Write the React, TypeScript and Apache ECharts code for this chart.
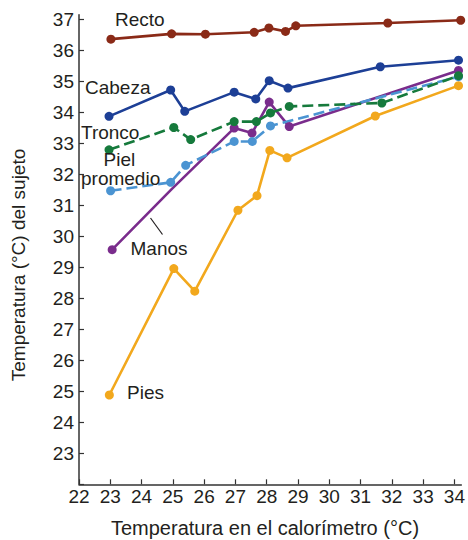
import React, { useEffect, useRef } from "react";
import * as echarts from "echarts";

type Pt = [number, number];

const xTicks = [22, 23, 24, 25, 26, 27, 28, 29, 30, 31, 32, 33, 34];
const yTicks = [22, 23, 24, 25, 26, 27, 28, 29, 30, 31, 32, 33, 34, 35, 36, 37];
const yLabels = [23, 24, 25, 26, 27, 28, 29, 30, 31, 32, 33, 34, 35, 36, 37];

const recto: Pt[] = [[23.02, 36.36], [24.96, 36.53], [26.04, 36.52], [27.6, 36.58], [28.07, 36.72], [28.6, 36.61], [28.93, 36.79], [31.87, 36.88], [34.2, 36.97]];
const cabeza: Pt[] = [[22.96, 33.87], [24.93, 34.72], [25.38, 34.03], [26.96, 34.65], [27.65, 34.43], [28.08, 35.02], [28.68, 34.78], [31.63, 35.47], [34.13, 35.68]];
const tronco: Pt[] = [[22.96, 32.79], [25.03, 33.51], [25.57, 33.12], [26.96, 33.7], [27.67, 33.7], [28.12, 33.98], [28.72, 34.19], [31.68, 34.3], [34.13, 35.18]];
const piel: Pt[] = [[23.01, 31.47], [24.93, 31.74], [25.41, 32.29], [26.96, 33.06], [27.54, 33.06], [28.12, 33.56], [34.13, 35.15]];
const manos: Pt[] = [[23.06, 29.57], [24.97, 31.53], [26.96, 33.49], [27.53, 33.33], [28.08, 34.33], [28.72, 33.54], [34.13, 35.35]];
const manosHidden = [1];
const pies: Pt[] = [[22.97, 24.88], [25.03, 28.96], [25.7, 28.23], [27.08, 30.84], [27.69, 31.31], [28.1, 32.77], [28.65, 32.53], [31.47, 33.88], [34.13, 34.86]];

const FONT = "'Liberation Sans', Arial, Helvetica, sans-serif";
const TXT = "#231f20";

function line(name: string, data: Pt[], color: string, dashed: boolean, hidden: number[] = []) {
  return {
    name,
    type: "line",
    data: data.map((p, i) => (hidden.includes(i) ? { value: p, symbol: "none" } : { value: p })),
    symbol: "circle",
    symbolSize: 9,
    showSymbol: true,
    lineStyle: { color, width: 2.6, type: dashed ? [11, 5] : "solid" },
    itemStyle: { color },
    z: 3,
  };
}

export default function App() {
  const ref = useRef<HTMLDivElement>(null);
  useEffect(() => {
    if (!ref.current) return;
    const chart = echarts.init(ref.current, null, { renderer: "svg" });
    const lbl = (text: string, x: number, y: number) => ({
      type: "text",
      x,
      y,
      style: { text, fill: TXT, font: `19px ${FONT}`, textAlign: "left", textVerticalAlign: "middle" },
      z: 10,
    });
    chart.setOption({
      animation: false,
      backgroundColor: "#ffffff",
      textStyle: { fontFamily: FONT },
      grid: { left: 79, right: 6.1, top: 14.65, bottom: 55.7, containLabel: false },
      xAxis: {
        type: "value",
        min: 22,
        max: 34.22,
        interval: 1,
        axisLine: { show: true, onZero: false, lineStyle: { color: "#333", width: 1.5 } },
        axisTick: { show: true, inside: true, length: 5, customValues: xTicks, lineStyle: { color: "#333", width: 1.2 } },
        axisLabel: { customValues: xTicks, color: TXT, fontSize: 19, fontFamily: FONT, margin: 3 },
        splitLine: { show: false },
      },
      yAxis: {
        type: "value",
        min: 22,
        max: 37.15,
        interval: 1,
        axisLine: { show: true, onZero: false, lineStyle: { color: "#333", width: 1.5 } },
        axisTick: { show: true, inside: true, length: 5, customValues: yTicks, lineStyle: { color: "#333", width: 1.2 } },
        axisLabel: { customValues: yLabels, color: TXT, fontSize: 19, fontFamily: FONT, margin: 5 },
        splitLine: { show: false },
      },
      series: [
        line("Pies", pies, "#f2a81d", false),
        line("Manos", manos, "#7a2c8c", false, manosHidden),
        line("Piel promedio", piel, "#4b94d2", true),
        line("Tronco", tronco, "#167a3c", true),
        line("Cabeza", cabeza, "#1d3f96", false),
        line("Recto", recto, "#8a2a17", false),
      ],
      graphic: [
        lbl("Recto", 115, 19.5),
        lbl("Cabeza", 85, 87),
        lbl("Tronco", 81, 132),
        lbl("Piel", 103.5, 159.5),
        lbl("promedio", 81, 178.5),
        lbl("Manos", 130.5, 248),
        lbl("Pies", 127, 392),
        {
          type: "line",
          shape: { x1: 150.5, y1: 218, x2: 162.5, y2: 234.5 },
          style: { stroke: "#231f20", lineWidth: 1.2 },
          z: 10,
        },
        {
          type: "text",
          x: 18,
          y: 265,
          rotation: Math.PI / 2,
          style: { text: "Temperatura (°C) del sujeto", fill: TXT, font: `19px ${FONT}`, textAlign: "center", textVerticalAlign: "middle" },
        },
        {
          type: "text",
          x: 265,
          y: 528,
          style: { text: "Temperatura en el calorímetro (°C)", fill: TXT, font: `20px ${FONT}`, textAlign: "center", textVerticalAlign: "middle" },
        },
      ],
    });
    return () => chart.dispose();
  }, []);
  return (
    <div
      ref={ref}
      style={{ position: "absolute", left: 0, top: 0, width: 468, height: 540, background: "#fff" }}
    />
  );
}
